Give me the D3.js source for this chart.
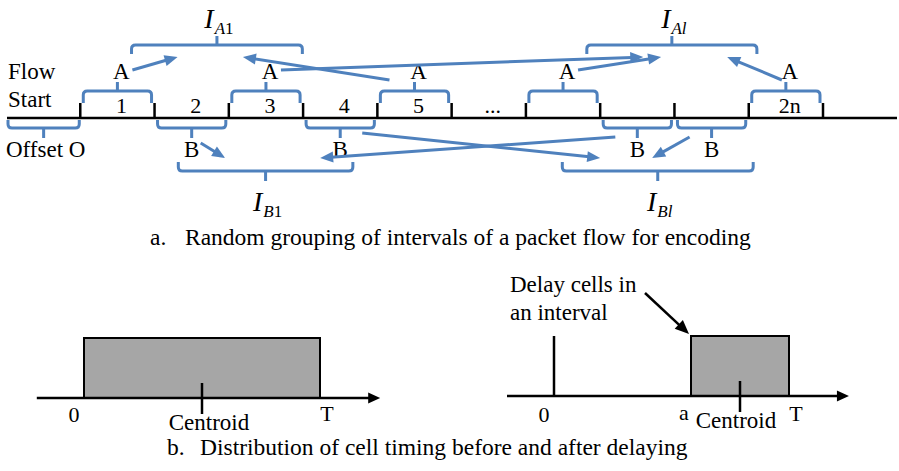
<!DOCTYPE html>
<html>
<head>
<meta charset="utf-8">
<script src="https://cdn.jsdelivr.net/npm/d3@7"></script>
<style>
  body { margin: 0; background: white; }
  svg text { font-family: "Liberation Serif", "Times New Roman", serif; fill: black; }
</style>
</head>
<body>
<svg id="fig"></svg>
<script>
const width = 899, height = 471;
const blue = '#4f81bd';

// part a: a flow split into 2n intervals after an offset
const intervalLabels = ['1', '2', '3', '4', '5', '...', '', '', '', '2n'];
const groupA = [0, 2, 4, 6, 9];   // intervals picked for group A
const groupB = [1, 3, 7, 8];      // intervals picked for group B
// interval sets, given in interval units along the flow
const setsA = [{ name: 'A1', from: 0.69, to: 2.99 }, { name: 'Al', from: 6.82, to: 9.11 }];
const setsB = [{ name: 'B1', from: 1.32, to: 3.67 }, { name: 'Bl', from: 6.49, to: 9.06 }];
// which interval points into which set (tip position in interval units)
const arrowsA = [
  { from: 0, to: 1.31 }, { from: 4, to: 2.19 },
  { from: 2, to: 7.58 }, { from: 6, to: 7.82 }, { from: 9, to: 8.71 }
];
const arrowsB = [
  { from: 1, to: 1.95 }, { from: 7, to: 3.23 },
  { from: 3, to: 7.0 }, { from: 8, to: 7.7 }
];

// part b: cell timing within an interval of length T
const before = { start: 0, end: 1 };
const after = { start: 0.583, end: 1 };

const svg = d3.select('#fig').attr('width', width).attr('height', height);
svg.append('rect').attr('width', width).attr('height', height).attr('fill', 'white');

const x = d3.scaleLinear().domain([-1, 10]).range([6, 823]);
const axisY = 118;
const mid = i => (x(i) + x(i + 1)) / 2;
const fs = 23;

// square bracket with rounded corners and a stub in the middle
function bracket(g, x0, x1, yEnd, yH, yStub, color) {
  const r = 4, s = Math.sign(yEnd - yH);
  const xm = (x0 + x1) / 2;
  const p = d3.path();
  p.moveTo(x0, yEnd);
  p.lineTo(x0, yH + s * r);
  p.quadraticCurveTo(x0, yH, x0 + r, yH);
  p.lineTo(x1 - r, yH);
  p.quadraticCurveTo(x1, yH, x1, yH + s * r);
  p.lineTo(x1, yEnd);
  p.moveTo(xm, yH);
  p.lineTo(xm, yStub);
  g.append('path').attr('d', p.toString())
    .attr('fill', 'none').attr('stroke', color).attr('stroke-width', 3)
    .attr('stroke-linejoin', 'round');
}

function arrow(g, x0, y0, x1, y1, color, w, headLen, headW) {
  const dx = x1 - x0, dy = y1 - y0, len = Math.hypot(dx, dy);
  const ux = dx / len, uy = dy / len;
  const bx = x1 - ux * headLen, by = y1 - uy * headLen;
  g.append('line').attr('x1', x0).attr('y1', y0).attr('x2', bx + ux * 2).attr('y2', by + uy * 2)
    .attr('stroke', color).attr('stroke-width', w);
  g.append('path')
    .attr('d', `M${x1},${y1}L${bx - uy * headW / 2},${by + ux * headW / 2}L${bx + uy * headW / 2},${by - ux * headW / 2}Z`)
    .attr('fill', color);
}

const ga = svg.append('g');

// flow line and interval boundaries
ga.append('line').attr('x1', 7).attr('x2', 897).attr('y1', axisY).attr('y2', axisY)
  .attr('stroke', 'black').attr('stroke-width', 2.5);
ga.selectAll('.tick').data(d3.range(0, intervalLabels.length + 1)).join('line')
  .attr('x1', d => x(d)).attr('x2', d => x(d))
  .attr('y1', 103).attr('y2', axisY)
  .attr('stroke', 'black').attr('stroke-width', 2.5);
ga.selectAll('.num').data(intervalLabels).join('text')
  .attr('x', (d, i) => mid(i) + 4).attr('y', 113)
  .attr('text-anchor', 'middle').attr('font-size', 22)
  .text(d => d);

ga.append('text').attr('x', 8).attr('y', 79).attr('font-size', fs).text('Flow');
ga.append('text').attr('x', 8).attr('y', 107).attr('font-size', fs).text('Start');
bracket(ga, x(-1) + 2, x(0) - 1, 120, 128, 138, blue);
ga.append('text').attr('x', 6).attr('y', 157).attr('font-size', fs).text('Offset O');

// per-interval brackets and group letters
groupA.forEach(i => {
  bracket(ga, x(i) + 3, x(i + 1) - 3, 103, 91, 82, blue);
  ga.append('text').attr('x', mid(i) + 4).attr('y', 79)
    .attr('text-anchor', 'middle').attr('font-size', fs).text('A');
});
groupB.forEach(i => {
  bracket(ga, x(i) + 3, x(i + 1) - 3, 120, 128, 138, blue);
  ga.append('text').attr('x', mid(i)).attr('y', 157)
    .attr('text-anchor', 'middle').attr('font-size', fs).text('B');
});

// interval sets I_A and I_B
function setLabel(g, cx, y, sub) {
  const t = g.append('text').attr('x', cx).attr('y', y).attr('text-anchor', 'middle')
    .attr('font-size', 28).attr('font-style', 'italic');
  t.append('tspan').text('I');
  t.append('tspan').attr('font-size', 17).attr('dy', 6).attr('dx', 1).text(sub[0]);
  t.append('tspan').attr('font-size', 17).attr('font-style', sub[1] === 'l' ? 'italic' : 'normal').text(sub[1]);
}
setsA.forEach(s => {
  bracket(ga, x(s.from), x(s.to), 54, 45, 36, blue);
  setLabel(ga, (x(s.from) + x(s.to)) / 2 + 2, 28, s.name);
});
setsB.forEach(s => {
  bracket(ga, x(s.from), x(s.to), 162, 171, 181, blue);
  setLabel(ga, (x(s.from) + x(s.to)) / 2 + 2, 211, s.name);
});

// arrows from intervals to their set
arrowsA.forEach(a => {
  const tx = x(a.to), right = tx > mid(a.from), far = Math.abs(tx - mid(a.from)) > 100;
  const sx = mid(a.from) + (right ? 15 : (far ? -25 : -4)), sy = right ? 70 : 80;
  arrow(ga, sx, sy, tx, 57, blue, 3, 13, 11);
});
arrowsB.forEach(a => {
  const tx = x(a.to), right = tx > mid(a.from), far = Math.abs(tx - mid(a.from)) > 100;
  const sx = mid(a.from) + (right ? (far ? 22 : 9) : -22), sy = right ? (far ? 133 : 143) : 137;
  arrow(ga, sx, sy, tx, 158, blue, 3, 13, 11);
});

ga.append('text').attr('x', 150).attr('y', 245).attr('font-size', 23.5).text('a.');
ga.append('text').attr('x', 185).attr('y', 245).attr('font-size', 23.5)
  .text('Random grouping of intervals of a packet flow for encoding');

// part b
const gb = svg.append('g');
function panel(g, range, axisLevel, dist, spike) {
  const xs = d3.scaleLinear().domain([0, 1]).range(range);
  const top = axisLevel - 60;
  if (spike) {
    g.append('line').attr('x1', xs(0)).attr('x2', xs(0)).attr('y1', top).attr('y2', axisLevel)
      .attr('stroke', 'black').attr('stroke-width', 2.5);
  }
  g.append('rect').attr('x', xs(dist.start)).attr('y', top)
    .attr('width', xs(dist.end) - xs(dist.start)).attr('height', axisLevel - top)
    .attr('fill', '#a6a6a6').attr('stroke', 'black').attr('stroke-width', 2);
  arrow(g, xs(-0.2), axisLevel, xs(1.255), axisLevel, 'black', 2.5, 12, 11);
  const c = xs((dist.start + dist.end) / 2);
  g.append('line').attr('x1', c).attr('x2', c).attr('y1', axisLevel - 15).attr('y2', axisLevel + 16)
    .attr('stroke', 'black').attr('stroke-width', 2.5);
  g.append('text').attr('x', xs(0) - 10).attr('y', 422).attr('text-anchor', 'middle').attr('font-size', 22).text('0');
  g.append('text').attr('x', xs(1) + 7).attr('y', 421).attr('text-anchor', 'middle').attr('font-size', 22).text('T');
  return xs;
}
const xl = panel(gb, [84, 320], 398, before, false);
gb.append('text').attr('x', xl(0.5) + 7).attr('y', 430).attr('text-anchor', 'middle').attr('font-size', fs).text('Centroid');

const xr = panel(gb, [554, 789], 396, after, true);
gb.append('text').attr('x', xr(after.start) - 7).attr('y', 420).attr('text-anchor', 'middle').attr('font-size', 22).text('a');
gb.append('text').attr('x', xr((after.start + after.end) / 2) - 4).attr('y', 428).attr('text-anchor', 'middle').attr('font-size', fs).text('Centroid');
gb.append('text').attr('x', 510).attr('y', 292).attr('font-size', fs).text('Delay cells in');
gb.append('text').attr('x', 510).attr('y', 320).attr('font-size', fs).text('an interval');
arrow(gb, 645, 293, 689, 334, 'black', 2.5, 14, 12);

gb.append('text').attr('x', 167).attr('y', 455).attr('font-size', 23.5).text('b.');
gb.append('text').attr('x', 200).attr('y', 455).attr('font-size', 23.5)
  .text('Distribution of cell timing before and after delaying');
</script>
</body>
</html>
